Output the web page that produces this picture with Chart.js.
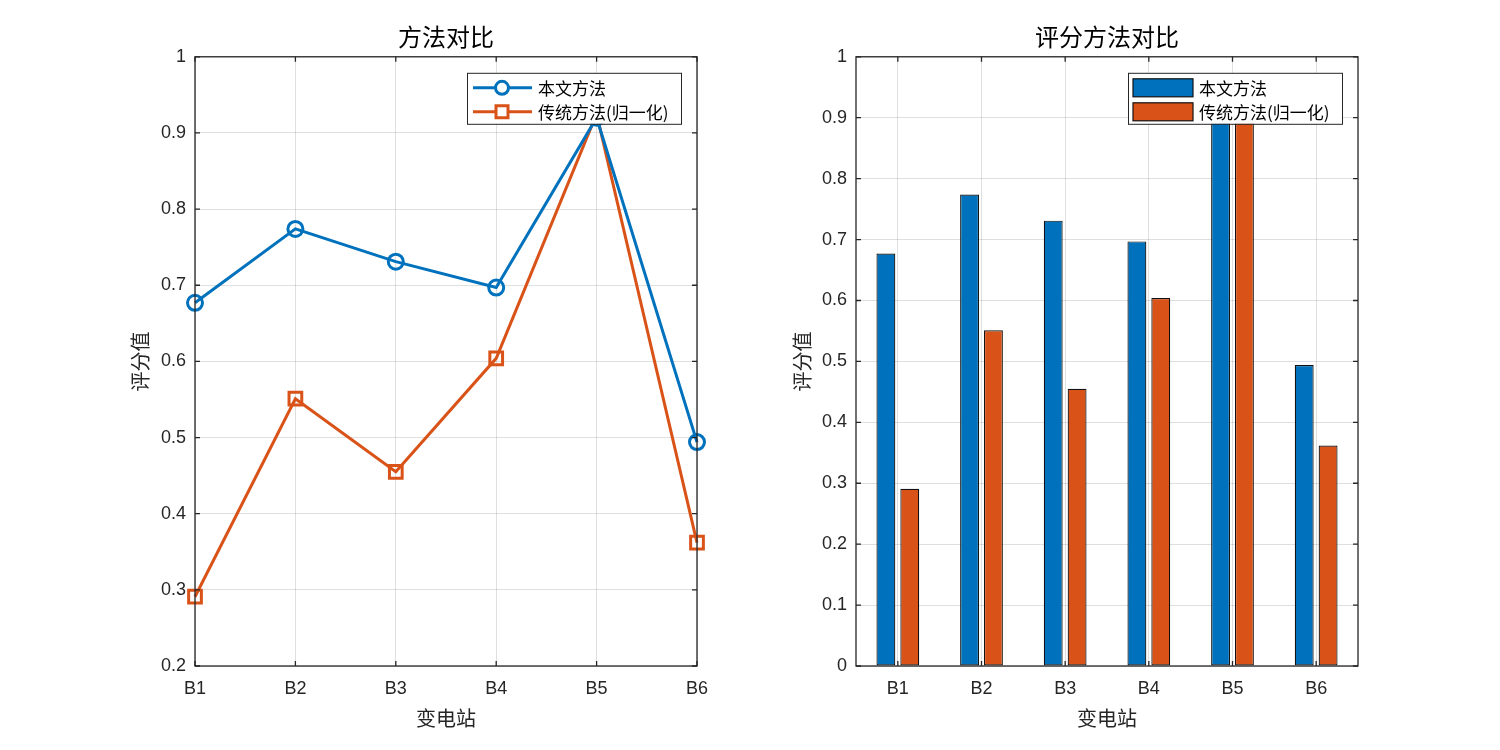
<!DOCTYPE html>
<html>
<head>
<meta charset="utf-8">
<script src="https://cdn.jsdelivr.net/npm/chart.js@4.4.1/dist/chart.umd.min.js"></script>
<style>
    body { margin: 0; background: #fff; }
    .panel { position: absolute; top: 0; width: 750px; height: 750px; }
</style>
</head>
<body>
<div class="panel" style="left:0"><canvas id="lineChart" width="750" height="750"></canvas></div>
<div class="panel" style="left:750px"><canvas id="barChart" width="750" height="750"></canvas></div>
<script>
const stations = ['B1', 'B2', 'B3', 'B4', 'B5', 'B6'];
const ourScores = [0.677, 0.774, 0.731, 0.697, 0.920, 0.494];
const classicScores = [0.291, 0.551, 0.455, 0.604, 0.925, 0.362];
const seriesNames = ['本文方法', '传统方法(归一化)'];

const BLUE = '#0072BD';
const ORANGE = '#D95319';
const AXIS = '#262626';
const EDGE = '#111';
const CJK = '"Noto Sans CJK SC", sans-serif';
const LATIN = '"Liberation Sans", Arial, sans-serif';

// MATLAB style box round the axes with small inward ticks
const axesBox = {
    id: 'axesBox',
    afterDatasetsDraw(chart) {
        const ctx = chart.ctx;
        const a = chart.chartArea;
        const x = chart.scales.x, y = chart.scales.y;
        ctx.save();
        ctx.strokeStyle = AXIS;
        ctx.lineWidth = 1.3;
        ctx.strokeRect(a.left, a.top, a.right - a.left, a.bottom - a.top);
        ctx.beginPath();
        y.ticks.forEach((t, i) => {
            const py = y.getPixelForTick(i);
            ctx.moveTo(a.left, py); ctx.lineTo(a.left + 5, py);
            ctx.moveTo(a.right, py); ctx.lineTo(a.right - 5, py);
        });
        x.ticks.forEach((t, i) => {
            const px = x.getPixelForTick(i);
            ctx.moveTo(px, a.bottom); ctx.lineTo(px, a.bottom - 5);
            ctx.moveTo(px, a.top); ctx.lineTo(px, a.top + 5);
        });
        ctx.stroke();
        ctx.restore();
    }
};

// legend box inside the top right corner of the plot
const legendBox = {
    id: 'legendBox',
    afterDraw(chart, args, opts) {
        const ctx = chart.ctx;
        const a = chart.chartArea;
        const w = 214, h = 51;
        const x = a.right - 16 - w, y = a.top + 16;
        ctx.save();
        ctx.fillStyle = '#fff';
        ctx.fillRect(x, y, w, h);
        ctx.strokeStyle = AXIS;
        ctx.lineWidth = 1;
        ctx.strokeRect(x + 0.5, y + 0.5, w, h);
        chart.data.datasets.forEach((ds, i) => {
            const cy = y + 15 + i * 24;
            if (opts.kind === 'line') {
                ctx.strokeStyle = ds.borderColor;
                ctx.lineWidth = 3;
                ctx.beginPath();
                ctx.moveTo(x + 6, cy); ctx.lineTo(x + 65, cy);
                ctx.stroke();
                ctx.beginPath();
                if (ds.pointStyle === 'circle') {
                    ctx.arc(x + 35, cy, 6.5, 0, Math.PI * 2);
                } else {
                    ctx.rect(x + 29, cy - 6, 12, 12);
                }
                ctx.fillStyle = '#fff';
                ctx.fill();
                ctx.stroke();
            } else {
                ctx.fillStyle = ds.backgroundColor;
                ctx.fillRect(x + 5, cy - 9, 60, 18);
                ctx.strokeStyle = EDGE;
                ctx.lineWidth = 1.2;
                ctx.strokeRect(x + 5, cy - 9, 60, 18);
            }
            ctx.fillStyle = '#000';
            ctx.font = '17px ' + CJK;
            ctx.textBaseline = 'middle';
            ctx.fillText(ds.label, x + 71, cy + 1);
        });
        ctx.restore();
    }
};

function commonOptions(title, yMin, padLeft, padRight, yWidth, legendKind) {
    return {
        responsive: false,
        animation: false,
        layout: { padding: { left: padLeft, right: padRight, top: 0, bottom: 0 } },
        plugins: {
            legend: { display: false },
            tooltip: { enabled: false },
            title: {
                display: true,
                text: title,
                fullSize: false,
                color: '#000',
                font: { family: CJK, size: 24, weight: 'normal' },
                padding: { top: 22, bottom: 6 }
            },
            legendBox: { kind: legendKind }
        },
        scales: {
            x: {
                grid: { color: 'rgba(38,38,38,0.15)', drawTicks: false, offset: false },
                border: { display: false },
                ticks: { color: AXIS, padding: 12, font: { family: LATIN, size: 18 } },
                title: {
                    display: true,
                    text: '变电站',
                    color: AXIS,
                    font: { family: CJK, size: 20 },
                    padding: { top: 0, bottom: 20 }
                },
                afterFit(scale) { scale.height = 84; }
            },
            y: {
                min: yMin,
                max: 1,
                grid: { color: 'rgba(38,38,38,0.15)', drawTicks: false },
                border: { display: false },
                ticks: {
                    stepSize: 0.1,
                    color: AXIS,
                    padding: 9,
                    font: { family: LATIN, size: 18 },
                    callback: v => String(+v.toFixed(1))
                },
                title: {
                    display: true,
                    text: '评分值',
                    color: AXIS,
                    font: { family: CJK, size: 20 },
                    padding: { top: 4, bottom: 0 }
                },
                afterFit(scale) { scale.width = yWidth; }
            }
        }
    };
}

new Chart('lineChart', {
    type: 'line',
    data: {
        labels: stations,
        datasets: [{
            label: seriesNames[0],
            data: ourScores,
            borderColor: BLUE,
            borderWidth: 3,
            pointStyle: 'circle',
            pointRadius: 7.5,
            pointBorderWidth: 3,
            pointBackgroundColor: 'rgba(0,0,0,0)',
            clip: false
        }, {
            label: seriesNames[1],
            data: classicScores,
            borderColor: ORANGE,
            borderWidth: 3,
            pointStyle: 'rect',
            pointRadius: 9,
            pointBorderWidth: 3,
            pointBackgroundColor: 'rgba(0,0,0,0)',
            clip: false
        }]
    },
    options: commonOptions('方法对比', 0.2, 124, 53, 71, 'line'),
    plugins: [axesBox, legendBox]
});

const barOptions = commonOptions('评分方法对比', 0, 36, 142, 70, 'bar');
barOptions.datasets = { bar: { categoryPercentage: 0.571, barPercentage: 0.79 } };

new Chart('barChart', {
    type: 'bar',
    data: {
        labels: stations,
        datasets: [{
            label: seriesNames[0],
            data: ourScores,
            backgroundColor: BLUE,
            borderColor: EDGE,
            borderWidth: 1.2,
            borderSkipped: false
        }, {
            label: seriesNames[1],
            data: classicScores,
            backgroundColor: ORANGE,
            borderColor: EDGE,
            borderWidth: 1.2,
            borderSkipped: false
        }]
    },
    options: barOptions,
    plugins: [axesBox, legendBox]
});
</script>
</body>
</html>
